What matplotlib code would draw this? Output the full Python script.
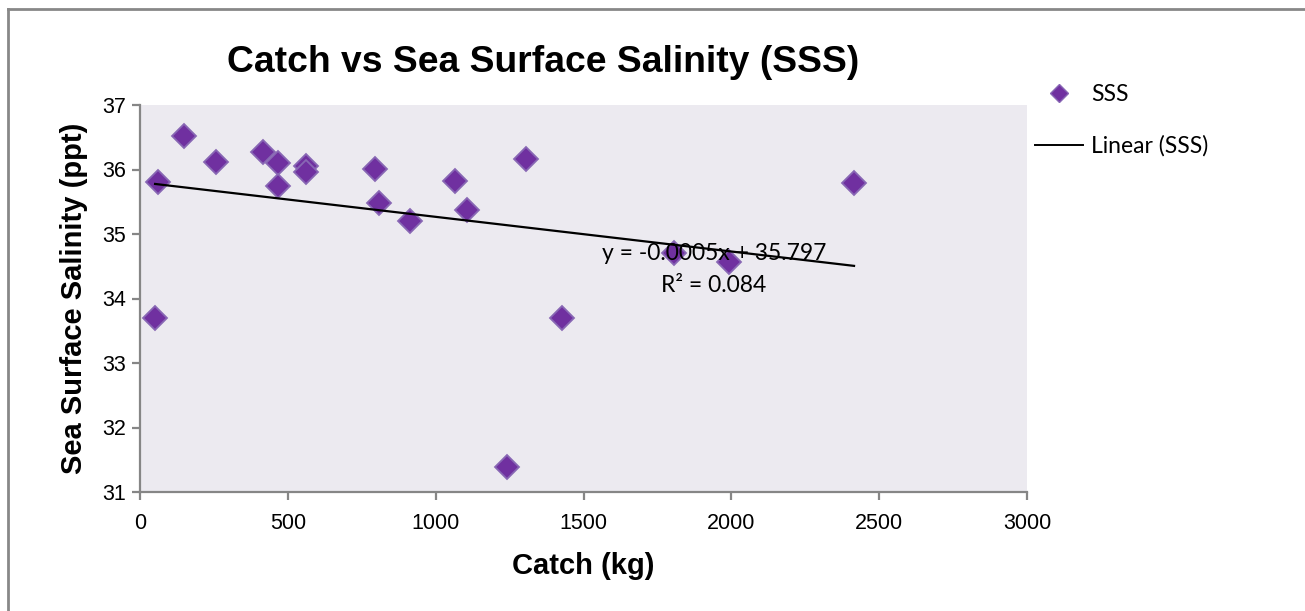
import matplotlib
matplotlib.use("Agg")
import matplotlib.pyplot as plt
from matplotlib.lines import Line2D
import numpy as np

# catch (kg) and sea surface salinity (ppt)
catch_kg = [51, 61, 149, 257, 416, 467, 467, 561, 561, 795,
            808, 913, 1065, 1105, 1305, 1241, 1427, 1806, 1992, 2415]
sss_ppt = [33.70, 35.81, 36.52, 36.12, 36.27, 36.10, 35.74, 36.05, 35.96, 36.01,
           35.48, 35.20, 35.82, 35.37, 36.16, 31.39, 33.70, 34.71, 34.57, 35.79]

x_ticks = [0, 500, 1000, 1500, 2000, 2500, 3000]
y_ticks = [31, 32, 33, 34, 35, 36, 37]

title = "Catch vs Sea Surface Salinity (SSS)"
x_label = "Catch (kg)"
y_label = "Sea Surface Salinity (ppt)"
trend_text = "y = -0.0005x + 35.797\nR\u00b2 = 0.084"

purple = "#7030A0"
edge = "#8867B4"
grey = "#868686"

fig = plt.figure(figsize=(13.05, 6.11), dpi=100)
ax = fig.add_axes([140 / 1305, 1 - 492 / 611, 887 / 1305, 387 / 611])
ax.set_facecolor("#ECEAF0")

x = np.array(catch_kg)
y = np.array(sss_ppt)

# linear trend line between smallest and largest catch
slope, intercept = np.polyfit(x, y, 1)
xs = np.array([x.min(), x.max()])
ax.plot(xs, slope * xs + intercept, color="black", linewidth=1.6, zorder=3)

ax.plot(x, y, linestyle="none", marker="D", markersize=12.5,
        markerfacecolor=purple, markeredgecolor=edge, markeredgewidth=1.3,
        zorder=2)

ax.set_xlim(0, 3000)
ax.set_ylim(31, 37)
ax.set_xticks(x_ticks)
ax.set_yticks(y_ticks)

for side in ["top", "right"]:
    ax.spines[side].set_visible(False)
for side in ["left", "bottom"]:
    ax.spines[side].set_color(grey)
    ax.spines[side].set_linewidth(1.6)
ax.tick_params(direction="out", length=6, width=1.6, color=grey,
               labelsize=15.5, pad=4)
for lab in ax.get_xticklabels() + ax.get_yticklabels():
    lab.set_family("Liberation Sans")
ax.tick_params(axis="x", pad=9)

ax.set_xlabel(x_label, fontsize=21, fontweight="bold",
              family="Liberation Sans", labelpad=13)
ax.set_ylabel(y_label, fontsize=21, fontweight="bold",
              family="Liberation Sans", labelpad=10)

fig.text(543 / 1305, 1 - 62 / 611, title, ha="center", va="center",
         fontsize=26.8, fontweight="bold", family="Liberation Sans")

ax.text(0.647, 0.575, trend_text, transform=ax.transAxes, ha="center",
        va="center", fontsize=16.5, family="Lato", linespacing=1.6)

handles = [Line2D([], [], linestyle="none", marker="D", markersize=9,
                  markerfacecolor=purple, markeredgecolor=edge),
           Line2D([], [], color="black", linewidth=1.4)]
leg = ax.legend(handles, ["SSS", "Linear (SSS)"], loc="upper left",
                bbox_to_anchor=(0.991, 1.095), frameon=False,
                prop={"family": "Lato", "size": 16.5},
                handlelength=2.1, handletextpad=0.35, labelspacing=1.3,
                borderaxespad=0.3)

# chart frame (only the top and left edges are inside the picture)
fig.add_artist(Line2D([8 / 1305, 8 / 1305], [0, 1 - 9 / 611],
                      transform=fig.transFigure, color="#888888", linewidth=2))
fig.add_artist(Line2D([8 / 1305, 1], [1 - 9 / 611, 1 - 9 / 611],
                      transform=fig.transFigure, color="#888888", linewidth=2))

fig.savefig("out.png", dpi=100)
